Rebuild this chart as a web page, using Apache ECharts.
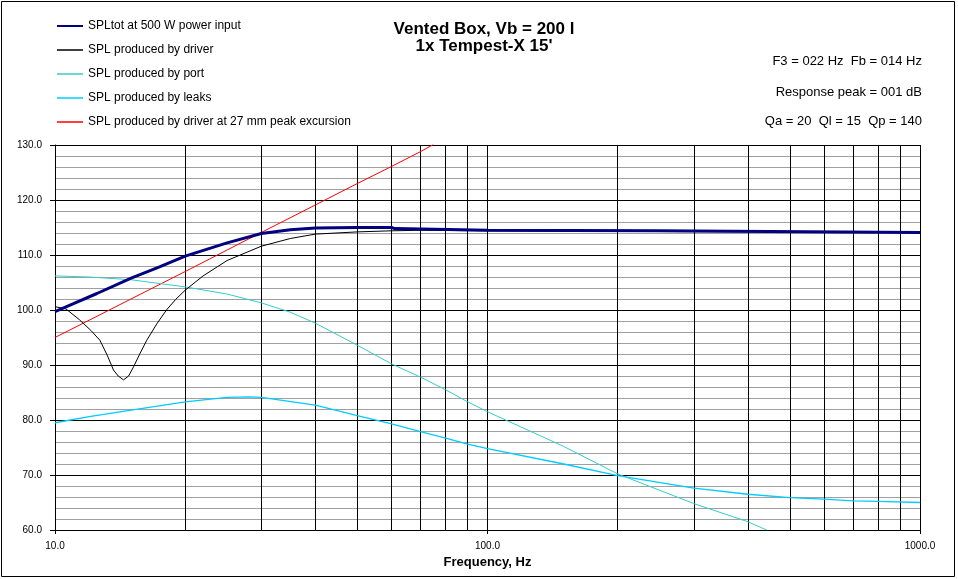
<!DOCTYPE html>
<html>
<head>
<meta charset="utf-8">
<script src="https://cdn.jsdelivr.net/npm/echarts@6/dist/echarts.min.js"></script>
<style>
  html, body { margin: 0; padding: 0; background: #fff; }
  #chart { width: 958px; height: 579px; }
</style>
</head>
<body>
<div id="chart"></div>
<script>
// values (Hz, dB)
const totFreq = [10, 11, 12.5, 15, 17.5, 20, 25, 30, 35, 40, 50, 60, 61, 100, 244, 246, 1000]
const totSpl = [99.7, 101.1, 103.0, 105.8, 107.9, 109.8, 112.2, 113.9, 114.6, 114.9, 115.0, 115.0, 114.8, 114.5, 114.4, 114.1, 114.1]

const driverFreq = [10, 10.6, 11.4, 12.1, 12.7, 13.2, 13.65, 14.0, 14.4, 14.8, 15.2, 15.7, 16.3, 17.2, 18.1, 19, 20, 22, 25, 30, 35, 40, 50, 60, 70, 100, 200, 1000]
const driverSpl = [100.6, 100.2, 98.2, 96.3, 94.5, 91.8, 89.1, 88.0, 87.3, 88.0, 89.7, 92.0, 94.5, 97.5, 100.0, 101.9, 103.6, 106.2, 109.0, 111.6, 113.0, 113.8, 114.2, 114.4, 114.5, 114.4, 114.3, 114.1]

const portFreq = [10, 12, 15, 20, 25, 30, 35, 40, 50, 60, 70, 80, 90, 100, 150, 200, 300, 400, 442]
const portSpl = [106.2, 106.0, 105.5, 104.2, 102.9, 101.3, 99.6, 97.6, 93.6, 90.2, 87.8, 85.5, 83.3, 81.5, 75.2, 70.2, 64.8, 61.5, 60.0]

const leakFreq = [10, 12, 15, 20, 25, 28, 30, 40, 50, 60, 70, 80, 90, 100, 150, 200, 300, 400, 500, 600, 700, 800, 1000]
const leakSpl = [79.5, 80.6, 81.8, 83.3, 84.1, 84.2, 84.1, 82.7, 80.8, 79.3, 77.9, 76.7, 75.6, 74.8, 72.0, 69.9, 67.6, 66.5, 65.9, 65.6, 65.3, 65.2, 65.0]

const xmaxFreq = [10, 20, 30, 40, 50, 60, 70, 75]
const xmaxSpl = [95.0, 107.0, 114.1, 119.1, 123.0, 126.1, 128.8, 130.1]

const seriesNames = [
  'SPLtot at 500 W power input',
  'SPL produced by driver',
  'SPL produced by port',
  'SPL produced by leaks',
  'SPL produced by driver at 27 mm peak excursion',
]

// extra vertical grid lines of the log axis
const minorFreqs = [20, 30, 40, 50, 60, 70, 80, 90, 200, 300, 400, 500, 600, 700, 800, 900]

const FONT = 'Arial, "Liberation Sans", sans-serif'
const THICK_ICON = 'path://M0,0 L26,0 L26,2 L0,2 Z'
const THIN_ICON = 'path://M0,0 L26,0 L26,1.5 L0,1.5 Z'

function pairs(xs, ys) {
  return xs.map((x, i) => [x, ys[i]])
}

function lineSeries(name, color, width, data, extra) {
  return Object.assign({
    name,
    type: 'line',
    data,
    symbol: 'none',
    smooth: false,
    animation: false,
    lineStyle: { color, width },
    itemStyle: { color },
  }, extra || {})
}

const chart = echarts.init(document.getElementById('chart'), null, { renderer: 'canvas' })

chart.setOption({
  backgroundColor: '#ffffff',
  animation: false,
  textStyle: { fontFamily: FONT, color: '#000' },
  grid: { left: 55, right: 38, top: 145, bottom: 49 },
  legend: {
    data: seriesNames.map((name, i) => ({ name, icon: i === 0 ? THICK_ICON : THIN_ICON })),
    orient: 'vertical',
    left: 57,
    top: 20,
    padding: 0,
    itemWidth: 26,
    itemHeight: 14,
    itemGap: 12,
    symbolKeepAspect: true,
    textStyle: { fontFamily: FONT, fontSize: 12, color: '#000' },
    selectedMode: false,
  },
  graphic: [
    {
      type: 'rect',
      shape: { x: 1.5, y: 1.5, width: 953, height: 575 },
      style: { fill: 'none', stroke: '#000', lineWidth: 1 },
      silent: true,
    },
    {
      type: 'text', x: 484, y: 29,
      style: { text: 'Vented Box, Vb = 200 l', font: 'bold 17px ' + FONT, fill: '#000', textAlign: 'center', textVerticalAlign: 'middle' },
    },
    {
      type: 'text', x: 484, y: 46,
      style: { text: "1x Tempest-X 15'", font: 'bold 17px ' + FONT, fill: '#000', textAlign: 'center', textVerticalAlign: 'middle' },
    },
    {
      type: 'text', x: 922, y: 61,
      style: { text: 'F3 = 022 Hz  Fb = 014 Hz', font: '13px ' + FONT, fill: '#000', textAlign: 'right', textVerticalAlign: 'middle' },
    },
    {
      type: 'text', x: 922, y: 92,
      style: { text: 'Response peak = 001 dB', font: '13px ' + FONT, fill: '#000', textAlign: 'right', textVerticalAlign: 'middle' },
    },
    {
      type: 'text', x: 922, y: 121,
      style: { text: 'Qa = 20  Ql = 15  Qp = 140', font: '13px ' + FONT, fill: '#000', textAlign: 'right', textVerticalAlign: 'middle' },
    },
  ],
  xAxis: {
    type: 'log',
    logBase: 10,
    min: 10,
    max: 1000,
    name: 'Frequency, Hz',
    nameLocation: 'middle',
    nameGap: 24,
    nameTextStyle: { fontFamily: FONT, fontSize: 13, fontWeight: 'bold', color: '#000' },
    axisLine: { show: true, lineStyle: { color: '#000', width: 1 } },
    axisTick: { show: true, length: 4, lineStyle: { color: '#000' } },
    axisLabel: {
      fontFamily: FONT, fontSize: 10, color: '#000', margin: 11,
      formatter: v => Number(v).toFixed(1),
    },
    splitLine: { show: true, lineStyle: { color: '#000', width: 1 } },
  },
  yAxis: {
    type: 'value',
    min: 60,
    max: 130,
    interval: 10,
    axisLine: { show: true, lineStyle: { color: '#000', width: 1 } },
    axisTick: { show: true, length: 5, lineStyle: { color: '#000' } },
    axisLabel: {
      fontFamily: FONT, fontSize: 10, color: '#000', margin: 13,
      formatter: v => Number(v).toFixed(1),
    },
    splitLine: { show: true, lineStyle: { color: '#000', width: 1 } },
    minorTick: { show: false, splitNumber: 5 },
    minorSplitLine: { show: true, lineStyle: { color: '#a0a0a0', width: 1 } },
  },
  series: [
    lineSeries(seriesNames[4], '#ff0000', 1, pairs(xmaxFreq, xmaxSpl), {
      markLine: {
        silent: true,
        symbol: 'none',
        z: 1,
        animation: false,
        label: { show: false },
        lineStyle: { color: '#000', width: 1, type: 'solid' },
        emphasis: { disabled: true },
        data: minorFreqs.map(f => ({ xAxis: f })),
      },
    }),
    lineSeries(seriesNames[3], '#00ccff', 1.3, pairs(leakFreq, leakSpl)),
    lineSeries(seriesNames[2], '#33cccc', 1, pairs(portFreq, portSpl)),
    lineSeries(seriesNames[1], '#000000', 1, pairs(driverFreq, driverSpl)),
    lineSeries(seriesNames[0], '#000080', 3, pairs(totFreq, totSpl)),
  ],
})
</script>
</body>
</html>
